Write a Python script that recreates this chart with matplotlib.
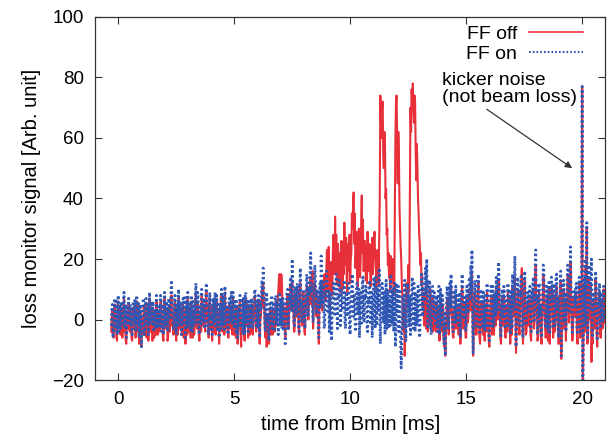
import numpy as np
import matplotlib
matplotlib.use('Agg')
import matplotlib.pyplot as plt

# time axis: one sample every 0.025 ms starting at -0.3 ms
t_start = -0.3
t_step = 0.025

# FF on (blue, dotted) - one row per ms
ff_on = [
    -2, 3, 5, -6, -4, 2, 7, -3, 1, 6, -5, 0, 8, -4, 2, 5, -3, 1, 6, -2, -1, 4, 9, -3, 0, 5, -6, 1, 4, -2, 7, 0, -2, 5, 3, -4, -5, 2, 6, -1,
    1, 7, -4, 3, 8, -2, 3, 6, -6, 1, 5, -3, -9, 0, 2, 7, 6, -5, -3, 4, 7, -2, 0, 5, -5, 1, 9, -1, 1, 6, -2, 3, 6, -4, -4, 2, 3, -3, 8, 0,
    -3, 4, 5, -2, -1, 8, 7, -4, 2, 5, -5, 1, 9, -2, 0, 6, 4, -3, -4, 7, 6, 0, 1, 9, 13, 4, 3, -3, -2, 6, 8, -1, -5, 3, 5, -2, 10, 2, -1, 6,
    4, -5, -3, 5, 7, -1, 1, 8, -6, 2, 6, -3, 9, 1, -2, 5, 3, -4, 8, 2, -4, 6, 5, -2, 2, 7, 12, 3, -1, 9, 7, -3, -5, 1, 4, -2, 10, 3, 0, 7,
    6, -3, -2, 8, 12, 4, 3, -5, -4, 6, 9, 0, 1, -3, -5, 7, 7, -1, 4, 9, -3, 2, 8, -4, 0, 5, -6, 2, 5, -3, 10, 3, -2, 8, 6, -4, 11, 2, -1, 5,
    3, -5, -4, 6, 7, 1, -1, 9, 5, -2, 9, 3, -3, 6, 2, -4, 6, 0, -6, 3, 4, -2, 8, 1, -2, 7, 1, -5, 7, 3, -5, 8, 9, -1, 3, 6, -4, 1, 6, -3,
    0, 5, 7, -2, -3, 4, 5, 9, 10, -1, -2, 6, 4, -3, 8, 1, -6, 5, 3, 9, 13, 7, 17, 10, 5, -2, -4, 7, 9, 0, 2, -5, -7, 4, 6, -2, 1, 8, -3, 4,
    5, -4, -2, 7, 8, -1, 1, 6, -5, 3, 9, -2, 3, 7, -3, 5, 7, -4, 0, 6, -8, 1, 4, 9, 10, -3, -1, 8, 6, 14, 12, 3, 20, 11, 8, -1, -2, 9, 11, 2,
    3, 12, 9, -2, -4, 8, 17, 5, 6, -1, 1, 9, 10, 3, -3, 6, 7, 15, 13, 1, 2, 10, 8, 16, 22, 9, 11, 4, -1, 7, 9, 18, 14, 2, 3, 10, 7, -3, -6, 8,
    12, 4, 21, 8, 5, 13, 10, -3, -2, 9, 8, 16, 14, 2, 3, 10, -4, 6, 9, -1, -7, 5, 6, 12, 11, 1, 2, 9, 15, 4, -3, 8, 7, 13, 12, -2, 0, 10, 9, 3,
    4, 10, 13, -1, -3, 9, 8, 1, 2, 12, 10, -3, -5, 6, 7, 13, 15, 3, 1, 8, 6, -4, -2, 11, 12, 2, 4, 10, -6, 3, 9, -2, 3, 12, 14, 1, -1, 8, 7, 11,
    10, -2, -4, 7, 5, 13, 12, -1, 1, 9, -6, 4, 8, 14, 3, -3, 14, 6, -2, 10, 9, 3, 17, 5, -8, 2, 6, 12, 11, -1, 2, 9, -5, 4, 13, -3, 4, 10, -3, 6,
    7, -2, 15, 4, -1, 10, 9, -4, 3, 12, -9, -3, 12, 2, 5, 11, -4, 6, 10, -8, -16, -5, -2, 7, 8, -3, 13, 4, -7, 1, 4, 12, 11, -2, 0, 8, -5, 3, 9, 14,
    3, -3, 12, 6, -4, 9, 7, -2, 1, 11, 10, -4, -6, 5, 8, 15, 14, 1, 2, 10, 6, 12, 17, 9, 20, 6, -3, 4, 9, 13, 4, -4, -5, 7, 11, 2, 1, 9, 7, -2,
    -2, 6, 8, -4, 4, 11, -5, 3, 10, -2, 1, 8, 6, -3, -8, 2, -12, -1, 5, 11, 9, 1, -3, 7, 12, 4, 15, 6, 2, -4, -4, 9, 7, -1, 11, 3, -1, 8, 6, -2,
    3, 9, -6, 2, 9, 15, 12, 0, 0, 8, 7, -4, -3, 11, 10, 2, 5, 13, 14, 6, 18, 9, 23, 4, -11, 3, 6, 12, 13, -3, -2, 7, 8, 15, 4, -4, -5, 6, 10, 1,
    1, -3, 9, 4, -4, 8, 6, -2, 12, 7, 2, -5, -7, 4, 8, 11, 4, -3, 11, 6, -2, 9, 7, 1, 14, 5, 3, 12, 19, 8, 5, -4, -6, 7, 10, 1, 2, 11, 8, -3,
    -3, 6, 7, -2, 12, 5, 1, 10, -5, 4, 9, -3, 15, 8, 4, 13, 21, 6, -9, 2, 6, 14, 11, -1, -2, 9, 8, 15, 3, -4, -6, 5, 10, 16, 5, -2, -1, 8, 9, 3,
    2, 8, 11, -3, -4, 9, 7, 12, 14, -1, 3, 17, 23, 6, 8, -5, -3, 10, 12, 1, 5, -4, -6, 7, 9, 18, 16, 4, 1, -3, -2, 11, 10, -4, 4, 13, -5, 2, 8, 14,
    6, 12, -3, 5, 11, -2, 2, 14, 15, 3, 7, -6, -5, 8, 9, 16, -12, -2, 4, 11, 13, -1, 1, 9, -4, 6, 10, 18, 17, 2, 6, 13, 24, 8, 3, -5, -2, 10, 9, 4,
    4, 11, 12, -3, -5, 8, 8, 14, 2, -4, 10, 5, 77, -30, -8, 5, 14, -2, 20, 10, 32, -6, -4, 12, 18, 3, 6, 15, 20, -3, -6, 8, 9, 1, 3, 16, 13, -2, -7, 6,
    5, 10, 12, -2, -3, 9, 8, -1, 1, 11, 10, 0, 3,
]

# FF off (red, solid)
ff_off = [
    -4, 1, 3, -5, -6, 2, 5, -3, -1, -6, -7, 3, 6, -2, 0, 4, -5, -1, 4, -6, -3, 2, 7, -4, -2, -7, -8, 1, 2, -3, 5, -1, -4, 3, 1, -6, -7, 0, 4, -3,
    -1, 4, -6, -2, 6, -4, 1, 5, -8, -3, 3, -7, -9, 1, 0, -5, 4, 2, -5, -1, 5, -6, -2, 3, -7, 0, 7, -4, -1, 4, -4, -7, 4, 1, -6, -2, 1, -5, 6, 0,
    -5, 0, 3, -4, -3, 6, 5, -2, 0, -6, -7, 4, 7, -3, -2, 3, 2, -7, -6, 2, 4, -4, -1, 6, 8, -2, 1, -5, -4, 4, 6, -3, -7, 1, 3, -5, 7, 0, -3, 4,
    2, -3, -5, 4, 5, -6, -1, 3, -8, 0, 4, -5, 7, 1, -4, 3, 1, -6, 6, 0, -6, 2, 3, -5, 0, 6, 9, -2, -3, 4, 5, -5, -7, 1, 2, -4, 8, 1, -2, 3,
    4, -2, -4, 6, 9, -1, 1, 5, -6, 2, 7, -3, -1, 4, -7, 0, 5, -4, 2, 6, -5, 1, 6, -3, -2, 3, -8, -1, 3, 7, 8, -2, -4, 1, 4, -5, 9, 2, -3, 4,
    1, -4, -6, 3, 5, -2, -3, 4, 3, -5, 7, 0, -5, 2, 0, -6, 4, 1, -8, -3, 2, 5, 6, -4, -9, 0, -1, 6, 5, -3, -7, 2, 7, -2, 1, 5, -6, -1, 4, -5,
    -2, 3, 5, -4, -5, 1, 3, 7, 8, -2, -4, 3, 2, 5, 6, -3, -8, 0, 1, 7, 10, 4, 12, 6, 3, -4, -6, 2, -9, -3, 0, -6, -8, 2, 4, -5, -1, 3, -5, 1,
    3, -3, -4, 5, 6, -2, -1, 7, 9, 13, 15, 8, 11, 15, 14, 6, 5, -3, -2, 4, -6, -1, 2, 7, 8, -2, -3, 5, 4, 11, 10, 3, 13, 8, 6, -4, -4, 5, 9, 1,
    1, 10, 7, -3, -5, 6, 12, 3, 4, -2, -1, 9, 8, -4, -5, 4, 5, 11, 10, 2, 0, 7, 6, 13, 14, 5, 9, 16, -3, 4, 7, 12, 11, 3, 1, 8, 5, -2, -8, 6,
    9, 4, 12, 6, 3, 11, 8, 14, 15, 7, 6, 17, 23, 10, 18, 24, 4, 13, 10, 19, 16, 8, 21, 28, 26, 15, 34, 20, 28, 12, 17, 25, 11, 18, 22, 9, 14, 26, 19, 10,
    24, 15, 32, 18, 20, 27, 14, 9, 25, 16, 18, 28, 12, 20, 22, 35, 30, 38, 42, 25, 35, 17, 21, 29, 15, 11, 23, 30, 28, 14, 19, 33, 41, 22, 33, 16, 17, 26, 24, 13,
    20, 12, 29, 19, 16, 25, 24, 11, 13, 22, 27, 15, 18, 26, 29, 20, 22, 10, 14, 23, 19, 12, 25, 40, 74, 66, 60, 70, 72, 55, 50, 62, 58, 40, 43, 28, 30, 18, 22, 14,
    15, 9, 21, 13, 12, 20, 18, 8, 10, 35, 60, 72, 74, 58, 45, 62, 55, 38, 30, 24, 20, 12, 8, -1, -4, 5, -12, -3, 3, 12, 10, 4, 18, 9, 14, 40, 70, 62, 76, 70,
    78, 70, 65, 74, 72, 55, 46, 58, 50, 40, 35, 28, 25, 18, 22, 12, 15, 4, 8, 1, -2, 9, 6, -3, 12, 3, -4, 2, 5, -2, 10, 1, -3, 5, 7, -4, -1, 6, 4, -3,
    -4, 2, 5, -3, 1, 4, -7, -1, 7, -4, -2, 5, 3, -6, -9, -2, -12, -4, 2, 7, 6, -2, -5, 4, 9, 2, 11, 3, -1, -5, -6, 2, 4, -3, 8, 1, -3, 5, 3, -5,
    0, 5, -8, -2, 6, 11, 8, -3, -3, 5, 4, -6, -6, 8, 7, -1, 2, 9, 10, 3, 12, 4, 15, 0, -12, -4, 3, 9, 9, -5, -5, 3, 5, 12, 1, -6, -8, 2, 6, -2,
    -2, -5, 6, 1, -7, 5, 3, -4, 9, 4, -1, -7, -9, 1, 5, 8, 1, -5, 8, 3, -5, 6, 4, -2, 10, 2, 0, 8, 13, 5, 2, -6, -8, 4, 7, -2, -1, 8, 5, -5,
    -6, 3, 4, -4, 9, 2, -2, 7, -8, 1, 6, -5, 11, 4, 1, 9, 14, 3, -11, -1, 3, 10, 8, -3, -5, 6, 5, 12, 17, 1, -8, 2, 7, 13, 2, -5, -4, 5, 6, -2,
    -1, 6, 8, -5, -7, 6, 4, 9, 10, -3, 0, 14, 18, 3, 5, -7, -6, 7, 9, -2, 2, -6, -8, 4, 6, 15, 12, 1, -2, -6, -5, 8, 7, -7, 1, 10, -8, -1, 5, 11,
    3, 9, -6, 2, 8, -4, -1, 11, 11, 0, 4, -8, -8, 5, 6, 13, -13, -4, 1, 8, 10, -3, -2, 6, -7, 3, 7, 15, 13, -1, 3, 10, 19, 5, 0, -7, -5, 7, 6, 1,
    1, 8, 9, -5, -8, 4, 5, 12, -1, -6, 7, 2, 77, -30, -10, 3, 11, -4, 17, 8, 30, -8, -6, 10, 14, 0, 3, 12, -14, -6, -8, 5, 6, -3, 0, 13, 10, -4, -9, 4,
    2, 8, 9, -4, -6, 6, 5, -3, -2, 10, 8, -1, 1,
]

t_on = t_start + t_step * np.arange(len(ff_on))
t_off = t_start + t_step * np.arange(len(ff_off))

plt.rcParams['font.family'] = ['Liberation Sans', 'DejaVu Sans']
plt.rcParams['font.size'] = 14

fig = plt.figure(figsize=(6.09, 4.43), dpi=100)
ax = fig.add_axes([0.156, 0.142, 0.838, 0.820])

ax.plot(t_off, ff_off, color='#e8303a', lw=1.5, label='FF off')
ax.plot(t_on, ff_on, color='#3056b4', lw=2.0, ls=(0, (0.8, 1.0)),
        label='FF on')

ax.set_xlim(-1, 21)
ax.set_ylim(-20, 100)
ax.set_xticks([0, 5, 10, 15, 20])
ax.set_yticks([-20, 0, 20, 40, 60, 80, 100])
ax.tick_params(direction='in', top=True, right=True, length=5, width=0.8,
               colors='#333333', labelcolor='black', pad=8, labelsize=13.5)
for s in ax.spines.values():
    s.set_color('#333333')
    s.set_linewidth(0.9)

ax.set_xlabel('time from Bmin [ms]', labelpad=5, fontsize=14.5)
ax.set_ylabel('loss monitor signal [Arb. unit]', labelpad=8, fontsize=14.5)

leg = ax.legend(loc='upper right', bbox_to_anchor=(0.957, 0.976),
                frameon=False, markerfirst=False, handlelength=2.8,
                handletextpad=0.6, labelspacing=0.12, borderaxespad=0,
                borderpad=0)
leg.get_lines()[0].set_linewidth(1.2)
leg.get_lines()[1].set_linewidth(1.5)

ax.annotate('kicker noise\n(not beam loss)', xy=(19.57, 50), xytext=(13.97, 76),
            ha='left', va='center', linespacing=1.0,
            arrowprops=dict(arrowstyle='-|>', color='#333333', lw=0.9,
                            mutation_scale=10, shrinkA=0, shrinkB=0,
                            relpos=(0.3, 0.0)))

fig.savefig('out.png', dpi=100)
